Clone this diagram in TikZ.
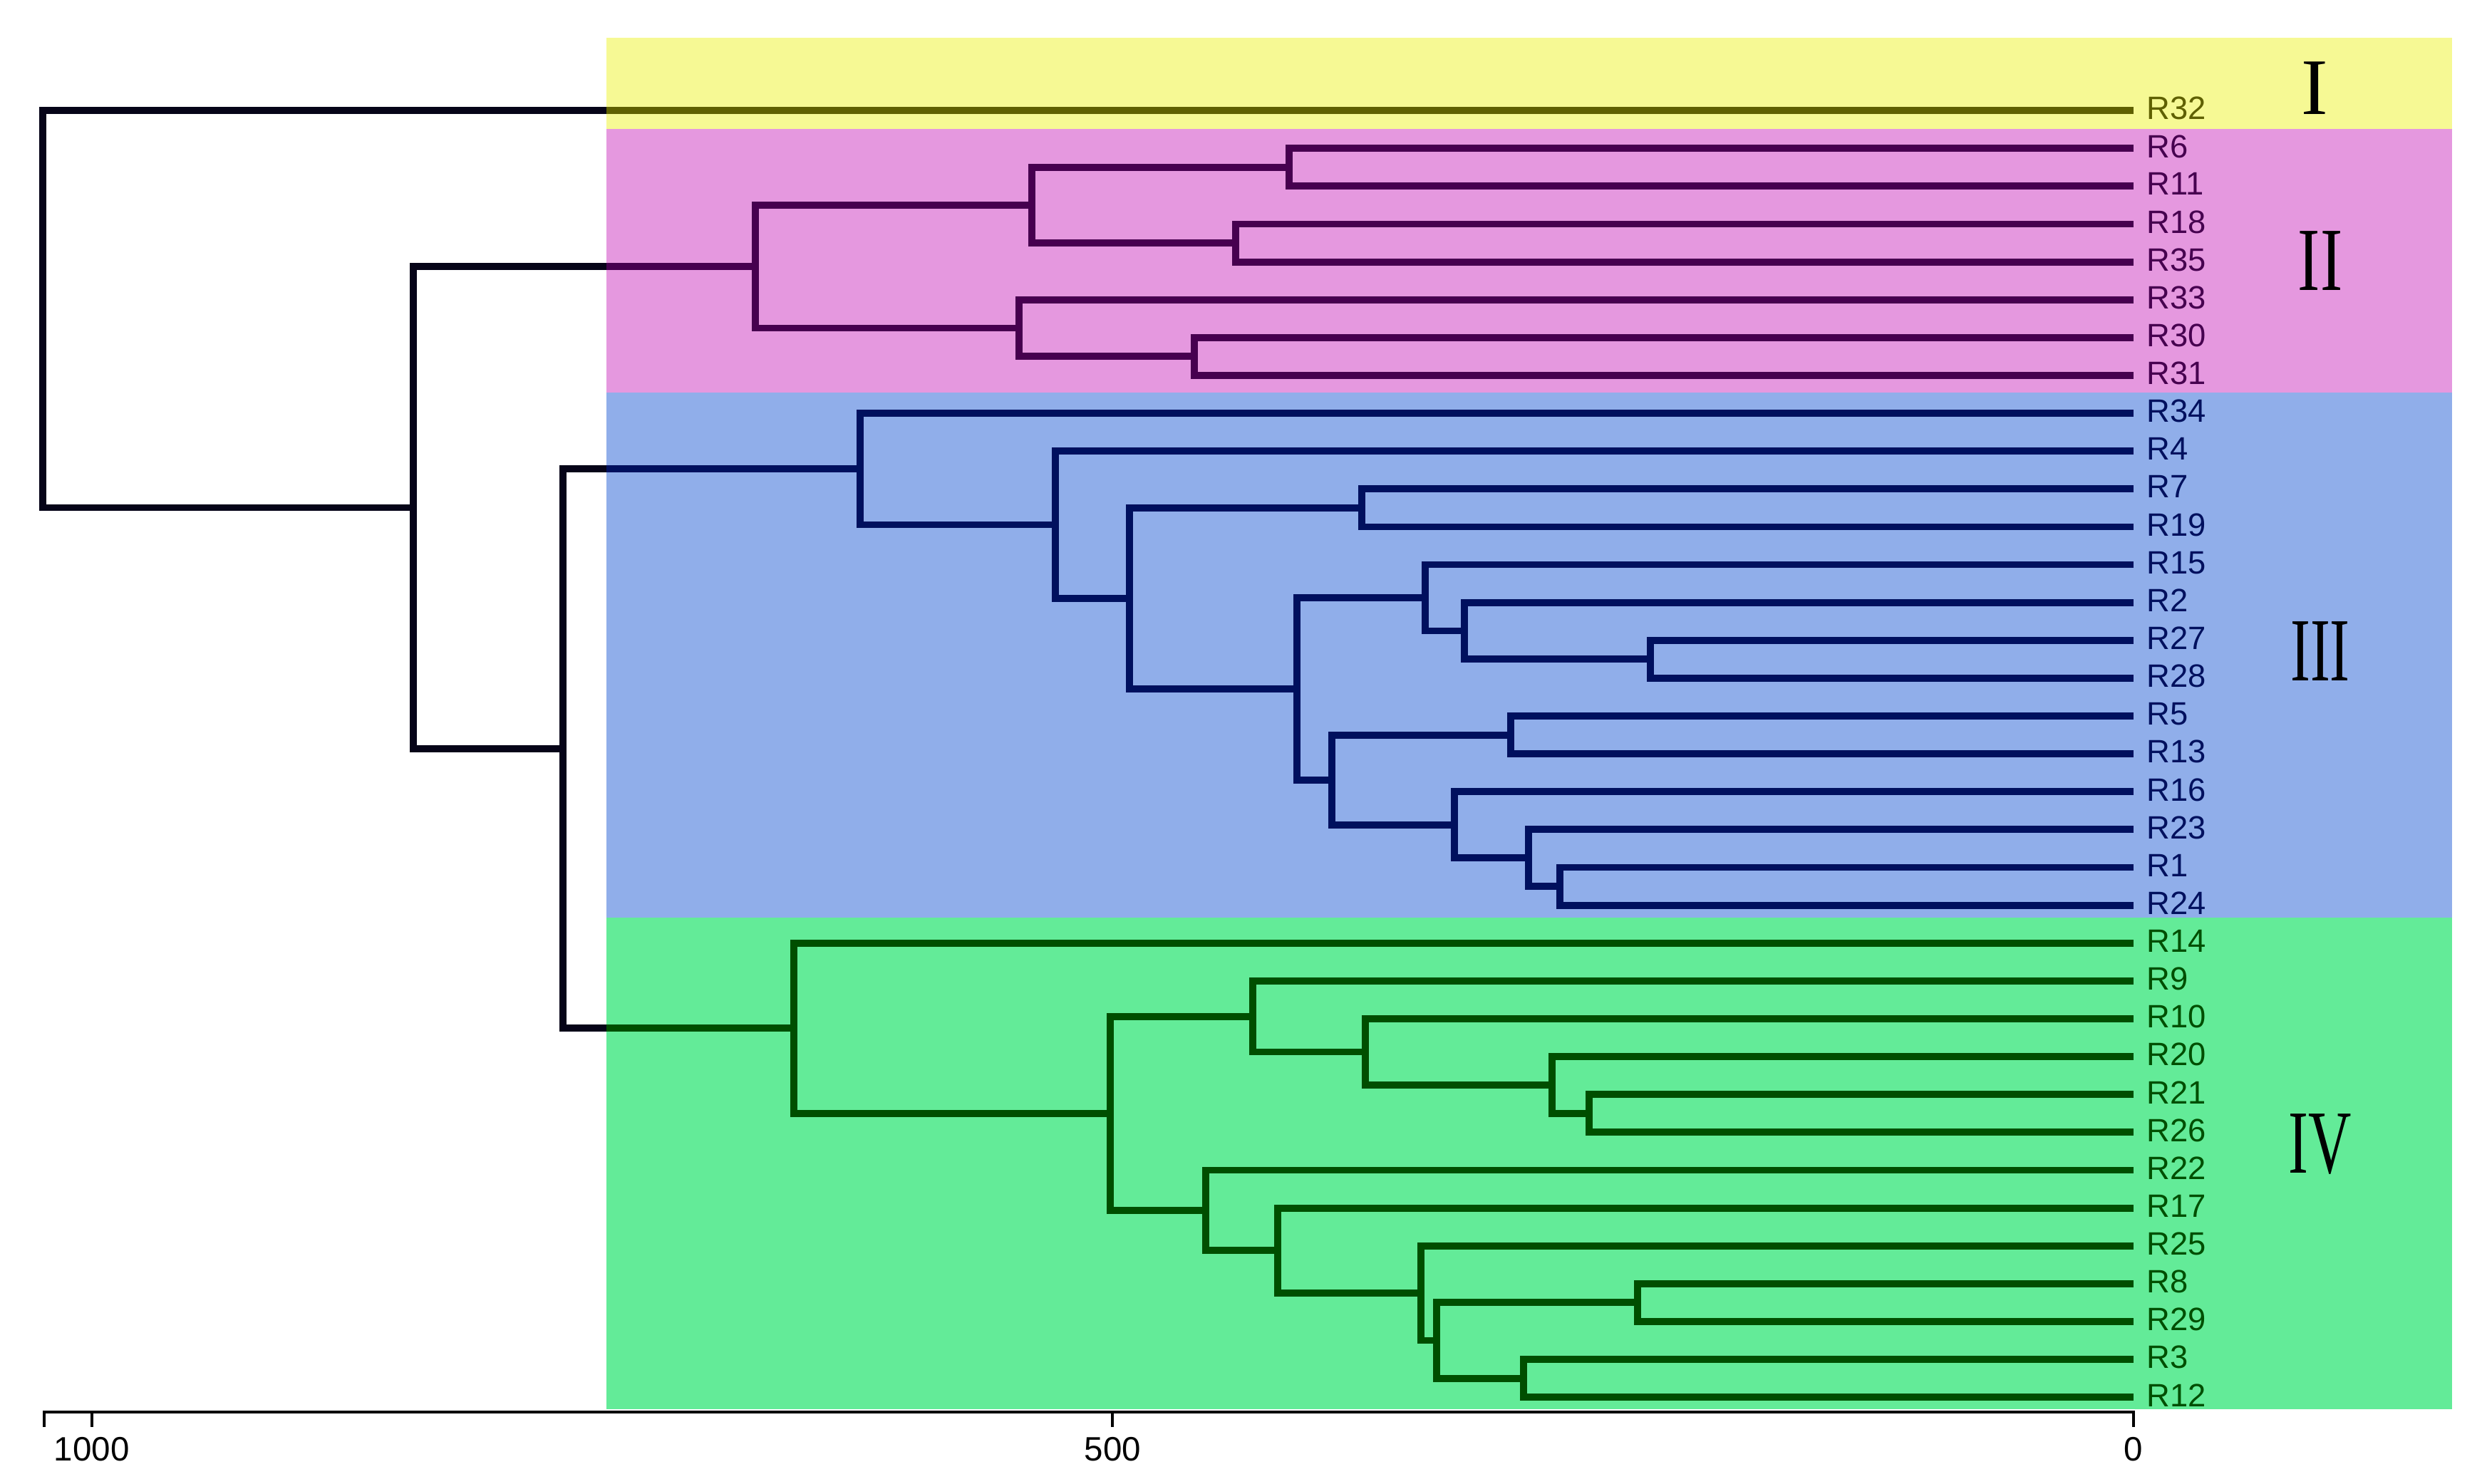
\documentclass[tikz,border=0pt]{standalone}
\usepackage{fontspec}
\setmainfont{Liberation Sans}
\newfontfamily\numfont{Liberation Serif}
\usepackage{graphicx}
\usepackage{xcolor}
\definecolor{bandI}{HTML}{F6F994}
\definecolor{bandII}{HTML}{E598DF}
\definecolor{bandIII}{HTML}{90AEEA}
\definecolor{bandIV}{HTML}{63EB98}
\definecolor{inkI}{HTML}{5F6000}
\definecolor{inkII}{HTML}{46004F}
\definecolor{inkIII}{HTML}{00105E}
\definecolor{inkIV}{HTML}{004E00}
\definecolor{ink0}{HTML}{060418}
\tikzstyle{link}=[line width=2.8pt,line join=miter]
\tikzstyle{leaf}=[anchor=west,inner xsep=5.1pt,inner ysep=0pt,text depth=1.7pt,font=\fontsize{12.9}{14}\selectfont]
\tikzstyle{numeral}=[inner sep=0pt,font=\numfont\fontsize{36}{36}\selectfont]
\tikzstyle{axis}=[line width=1.15pt,black,line join=miter]
\tikzstyle{ticklab}=[below,inner xsep=0pt,inner ysep=3.4pt,font=\fontsize{13.5}{15}\selectfont]

\begin{document}
\begin{tikzpicture}[x=0.01cm,y=-0.5309cm]
  \useasboundingbox (0,-2.9196) rectangle (3483,36.2787);
  % colour bands
  \fill[bandI]   (851,-1.921) rectangle (3441,0.49);
  \fill[bandII]  (851,0.49)   rectangle (3441,7.459);
  \fill[bandIII] (851,7.459)  rectangle (3441,21.322);
  \fill[bandIV]  (851,21.322) rectangle (3441,34.319);
  \coordinate (edge) at (851,0);

  % leaves
  \node[leaf,inkI] (R32) at (2994,0) {R32};
  \foreach \n [count=\i from 1] in {R6,R11,R18,R35,R33,R30,R31}
    \node[leaf,inkII] (\n) at (2994,\i) {\n};
  \foreach \n [count=\i from 8] in {R34,R4,R7,R19,R15,R2,R27,R28,R5,R13,R16,R23,R1,R24}
    \node[leaf,inkIII] (\n) at (2994,\i) {\n};
  \foreach \n [count=\i from 22] in {R14,R9,R10,R20,R21,R26,R22,R17,R25,R8,R29,R3,R12}
    \node[leaf,inkIV] (\n) at (2994,\i) {\n};

  % joins
  \coordinate (a) at (1809,1.5);
  \coordinate (b) at (1734,3.5);
  \coordinate (c) at (1448,2.5);
  \coordinate (d) at (1676,6.5);
  \coordinate (e) at (1430,5.75);
  \coordinate (cl2) at (1060,4.125);
  \coordinate (f) at (1911,10.5);
  \coordinate (g) at (2316,14.5);
  \coordinate (h) at (2055,13.75);
  \coordinate (i) at (2000,12.875);
  \coordinate (j) at (2120,16.5);
  \coordinate (k) at (2189,20.5);
  \coordinate (l) at (2145,19.75);
  \coordinate (m) at (2041,18.875);
  \coordinate (n) at (1869,17.6875);
  \coordinate (o) at (1820,15.28125);
  \coordinate (p) at (1585,12.890625);
  \coordinate (q) at (1481,10.9453);
  \coordinate (cl3) at (1207,9.4727);
  \coordinate (r) at (2230,26.5);
  \coordinate (s) at (2178,25.75);
  \coordinate (t) at (1916,24.875);
  \coordinate (u) at (1758,23.9375);
  \coordinate (v) at (2298,31.5);
  \coordinate (w) at (2138,33.5);
  \coordinate (x) at (2016,32.5);
  \coordinate (y) at (1994,31.25);
  \coordinate (z) at (1793,30.125);
  \coordinate (aa) at (1692,29.0625);
  \coordinate (bb) at (1558,26.5);
  \coordinate (cl4) at (1114,24.25);
  \coordinate (cl34) at (790,16.8613);
  \coordinate (cl234) at (580,10.4932);
  \coordinate (root) at (60,5.2466);

  % trunk, outside the bands
  \draw[link,ink0] (R32) -| (root) |- (cl234);
  \draw[link,ink0] (cl2) -| (cl234) |- (cl34);
  \draw[link,ink0] (cl3) -| (cl34) |- (cl4);
  \draw[link,inkI] (edge |- R32) -- (R32);

  % cluster II
  \draw[link,inkII] (edge |- cl2) -- (cl2);
  \draw[link,inkII] (R6) -| (a) |- (R11);
  \draw[link,inkII] (R18) -| (b) |- (R35);
  \draw[link,inkII] (a) -| (c) |- (b);
  \draw[link,inkII] (R30) -| (d) |- (R31);
  \draw[link,inkII] (R33) -| (e) |- (d);
  \draw[link,inkII] (c) -| (cl2) |- (e);

  % cluster III
  \draw[link,inkIII] (edge |- cl3) -- (cl3);
  \draw[link,inkIII] (R7) -| (f) |- (R19);
  \draw[link,inkIII] (R27) -| (g) |- (R28);
  \draw[link,inkIII] (R2) -| (h) |- (g);
  \draw[link,inkIII] (R15) -| (i) |- (h);
  \draw[link,inkIII] (R5) -| (j) |- (R13);
  \draw[link,inkIII] (R1) -| (k) |- (R24);
  \draw[link,inkIII] (R23) -| (l) |- (k);
  \draw[link,inkIII] (R16) -| (m) |- (l);
  \draw[link,inkIII] (j) -| (n) |- (m);
  \draw[link,inkIII] (i) -| (o) |- (n);
  \draw[link,inkIII] (f) -| (p) |- (o);
  \draw[link,inkIII] (R4) -| (q) |- (p);
  \draw[link,inkIII] (R34) -| (cl3) |- (q);

  % cluster IV
  \draw[link,inkIV] (edge |- cl4) -- (cl4);
  \draw[link,inkIV] (R21) -| (r) |- (R26);
  \draw[link,inkIV] (R20) -| (s) |- (r);
  \draw[link,inkIV] (R10) -| (t) |- (s);
  \draw[link,inkIV] (R9) -| (u) |- (t);
  \draw[link,inkIV] (R8) -| (v) |- (R29);
  \draw[link,inkIV] (R3) -| (w) |- (R12);
  \draw[link,inkIV] (v) -| (x) |- (w);
  \draw[link,inkIV] (R25) -| (y) |- (x);
  \draw[link,inkIV] (R17) -| (z) |- (y);
  \draw[link,inkIV] (R22) -| (aa) |- (z);
  \draw[link,inkIV] (u) -| (bb) |- (aa);
  \draw[link,inkIV] (R14) -| (cl4) |- (bb);

  % cluster numbers
  \node[numeral,font=\numfont\fontsize{32}{32}\selectfont] (numI) at (3248,-0.593) {I};
  \node[numeral] (numII) at (3256,3.965) {\scalebox{0.74}[1]{II}};
  \node[numeral] (numIII) at (3256,14.28) {\scalebox{0.66}[1]{III}};
  \node[numeral] (numIV) at (3256,27.32) {\scalebox{0.66}[1]{IV}};

  % scale
  \coordinate (axL) at (62,34.394);
  \coordinate (axR) at (2994,34.394);
  \draw[axis] (axL) ++(0,0.4) -- (axL) -- (axR) -- ++(0,0.4);
  \foreach \v in {0,500,1000}
    \draw[axis] ({2994-2.8653*\v},34.394) -- ++(0,0.4) node[ticklab] (t\v) {\v};
\end{tikzpicture}
\end{document}
